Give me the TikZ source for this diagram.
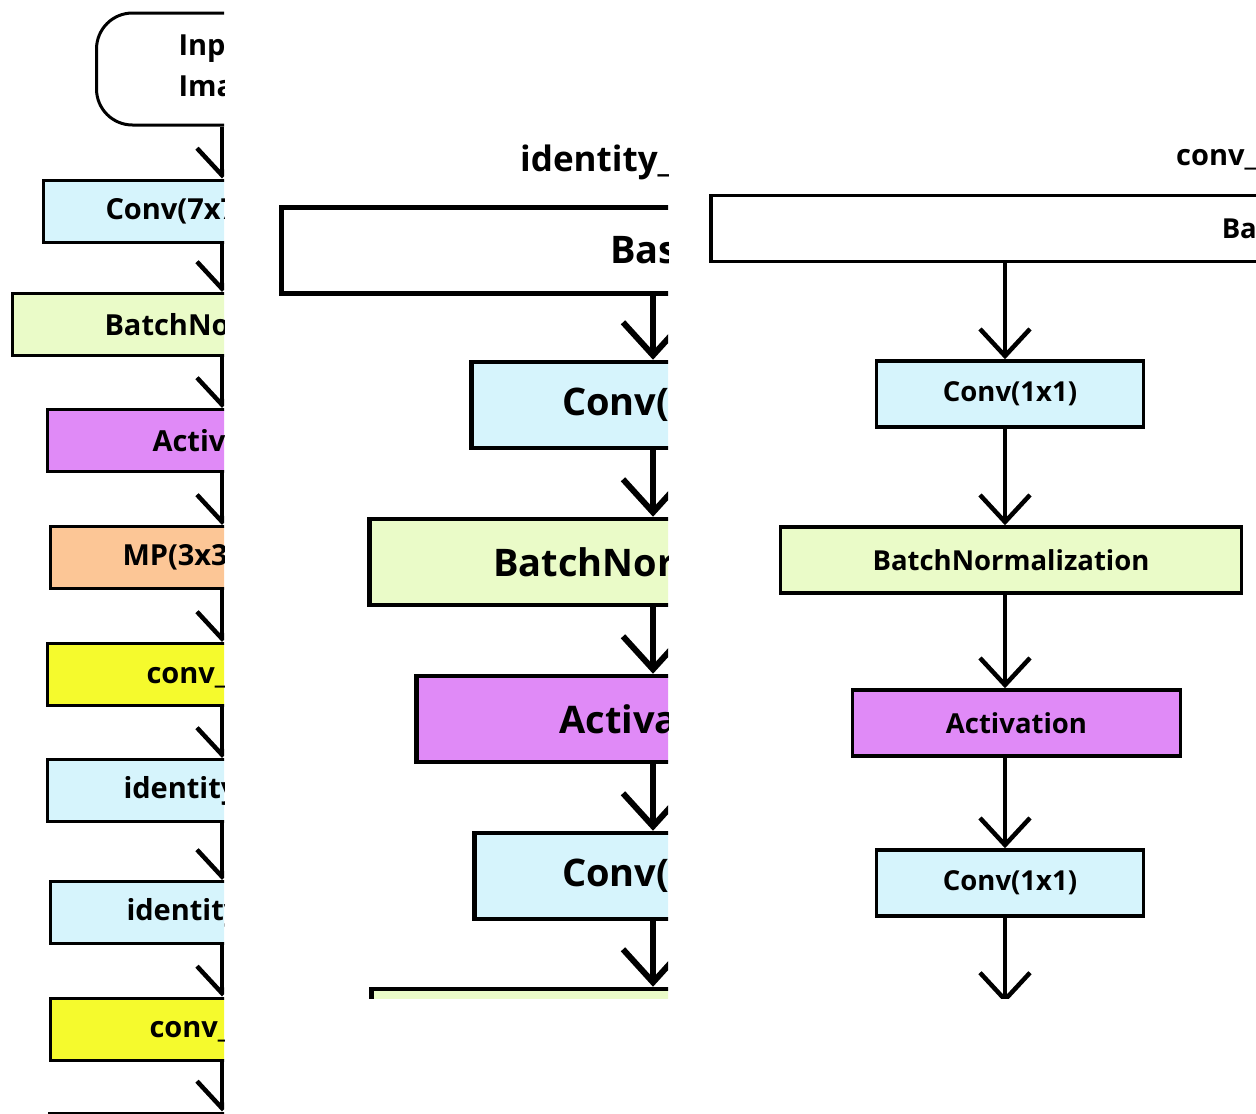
\documentclass[tikz,border=0pt]{standalone}
\usepackage{fontspec}
\setmainfont{Open Sans}
\usetikzlibrary{arrows.meta,positioning}
\definecolor{convcol}{RGB}{214,244,252}
\definecolor{bncol}{RGB}{234,251,200}
\definecolor{actcol}{RGB}{224,138,247}
\definecolor{mpcol}{RGB}{252,198,150}
\definecolor{blockcol}{RGB}{245,250,45}
\tikzset{
  layer/.style    = {draw, rectangle, anchor=west, inner ysep=0pt, text=black},
  thinbox/.style  = {line width=3pt, minimum height=62pt, font=\bfseries\fontsize{29}{35}\selectfont},
  widebox/.style  = {line width=4.5pt, minimum height=86pt, font=\bfseries\fontsize{38}{45}\selectfont},
  flow/.style     = {-{Straight Barb[length=27pt,width=50pt]}, line width=4.5pt},
  bigflow/.style  = {-{Straight Barb[length=33pt,width=60pt]}, line width=6pt},
  title/.style    = {anchor=west, inner sep=0pt, text=black}
}
\begin{document}
\begin{tikzpicture}[x=1pt, y=-1pt]
  \useasboundingbox (0,0) rectangle (1256,1114);
  %Overview
  \begin{scope}
    \clip (0,0) rectangle (224,1114);
    \coordinate (ax1) at (222,0);
    \node[layer, thinbox, rounded corners=36pt, minimum height=112pt, inner xsep=82pt, align=left,
          font=\bfseries\fontsize{29}{41}\selectfont] (input) at (95,69) {Input\\Image};
    \node[layer, thinbox, fill=convcol, inner xsep=62pt] (conv7) at (42,211) {Conv(7x7)};
    \node[layer, thinbox, fill=bncol, inner xsep=92pt] (bnA) at (11,324.5) {BatchNormalization};
    \node[layer, thinbox, fill=actcol, inner xsep=105pt] (actA) at (46,440.5) {Activation};
    \node[layer, thinbox, fill=mpcol, inner xsep=72pt] (pool) at (49,557.5) {MP(3x3)};
    \node[layer, thinbox, fill=blockcol, inner xsep=99pt] (cbA) at (46,674.5) {conv\_block};
    \node[layer, thinbox, fill=convcol, inner xsep=76pt] (idA) at (46,790.5) {identity\_block};
    \node[layer, thinbox, fill=convcol, inner xsep=76pt] (idB) at (49,912.5) {identity\_block};
    \node[layer, thinbox, fill=blockcol, inner xsep=99pt] (cbB) at (49,1029) {conv\_block};
    \node[layer, thinbox, fill=convcol, inner xsep=76pt] (idC) at (48,1144) {identity\_block};
    \draw[flow] (input.south -| ax1) -- (conv7.north -| ax1);
    \draw[flow] (conv7.south -| ax1) -- (bnA.north -| ax1);
    \draw[flow] (bnA.south -| ax1) -- (actA.north -| ax1);
    \draw[flow] (actA.south -| ax1) -- (pool.north -| ax1);
    \draw[flow] (pool.south -| ax1) -- (cbA.north -| ax1);
    \draw[flow] (cbA.south -| ax1) -- (idA.north -| ax1);
    \draw[flow] (idA.south -| ax1) -- (idB.north -| ax1);
    \draw[flow] (idB.south -| ax1) -- (cbB.north -| ax1);
    \draw[flow] (cbB.south -| ax1) -- (idC.north -| ax1);
  \end{scope}
  %identity block
  \begin{scope}
    \clip (270,130) rectangle (668,998);
    \coordinate (ax2) at (653,0);
    \node[title, font=\bfseries\fontsize{35}{42}\selectfont] (idtitle) at (520,162) {identity\_block};
    \node[layer, widebox, fill=white, inner xsep=329pt] (idbase) at (279,250.5) {Base};
    \node[layer, widebox, fill=convcol, inner xsep=91pt] (idconvA) at (469,405) {Conv(3x3)};
    \node[layer, widebox, fill=bncol, inner xsep=124pt] (idbnA) at (367,562) {BatchNormalization};
    \node[layer, widebox, fill=actcol, inner xsep=143pt] (idact) at (414,719) {Activation};
    \node[layer, widebox, fill=convcol, inner xsep=88pt] (idconvB) at (472,876) {Conv(3x3)};
    \node[layer, widebox, fill=bncol, inner xsep=122pt] (idbnB) at (369,1032) {BatchNormalization};
    \draw[bigflow] (idbase.south -| ax2) -- (idconvA.north -| ax2);
    \draw[bigflow] (idconvA.south -| ax2) -- (idbnA.north -| ax2);
    \draw[bigflow] (idbnA.south -| ax2) -- (idact.north -| ax2);
    \draw[bigflow] (idact.south -| ax2) -- (idconvB.north -| ax2);
    \draw[bigflow] (idconvB.south -| ax2) -- (idbnB.north -| ax2);
  \end{scope}
  %conv block
  \begin{scope}
    \clip (700,130) rectangle (1256,998);
    \coordinate (ax3) at (1005,0);
    \node[title, font=\bfseries\fontsize{29}{35}\selectfont] (cbtitle) at (1176,157) {conv\_block};
    \node[layer, thinbox, line width=3.5pt, minimum height=66pt, font=\bfseries\fontsize{27.5}{33}\selectfont,
          fill=white, inner xsep=511pt] (cbbase) at (709,228.5) {Base};
    \node[layer, thinbox, line width=3.5pt, minimum height=66pt, font=\bfseries\fontsize{27.5}{33}\selectfont,
          anchor=center, fill=convcol, minimum width=267pt] (cbconvA) at (1010,394) {Conv(1x1)};
    \node[layer, thinbox, line width=3.5pt, minimum height=66pt, font=\bfseries\fontsize{27.5}{33}\selectfont,
          anchor=center, fill=bncol, minimum width=461pt] (cbbn) at (1011,560) {BatchNormalization};
    \node[layer, thinbox, line width=3.5pt, minimum height=66pt, font=\bfseries\fontsize{27.5}{33}\selectfont,
          anchor=center, fill=actcol, minimum width=328pt] (cbact) at (1016.5,723) {Activation};
    \node[layer, thinbox, line width=3.5pt, minimum height=66pt, font=\bfseries\fontsize{27.5}{33}\selectfont,
          anchor=center, fill=convcol, minimum width=267pt] (cbconvB) at (1010,883) {Conv(1x1)};
    \coordinate (cbnext) at (1005,1003);
    \draw[flow] (cbbase.south -| ax3) -- (cbconvA.north -| ax3);
    \draw[flow] (cbconvA.south -| ax3) -- (cbbn.north -| ax3);
    \draw[flow] (cbbn.south -| ax3) -- (cbact.north -| ax3);
    \draw[flow] (cbact.south -| ax3) -- (cbconvB.north -| ax3);
    \draw[flow] (cbconvB.south -| ax3) -- (cbnext);
  \end{scope}
\end{tikzpicture}
\end{document}
